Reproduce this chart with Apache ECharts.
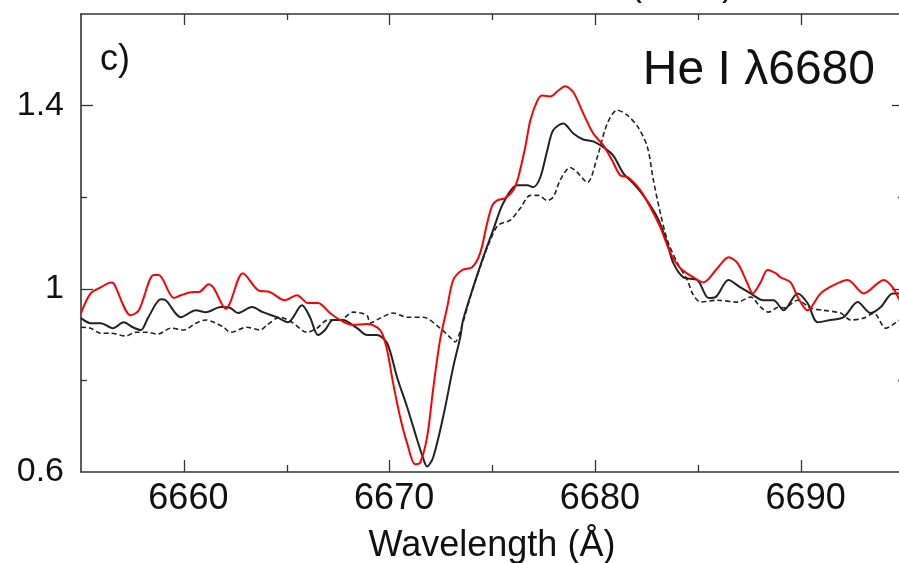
<!DOCTYPE html>
<html>
<head>
<meta charset="utf-8">
<script src="https://cdn.jsdelivr.net/npm/echarts@6/dist/echarts.min.js"></script>
<style>html,body{margin:0;padding:0;background:#fff;}#c{width:899px;height:563px;}</style>
</head>
<body>
<div id="c"></div>
<script>
// Wavelength (Å) / normalized flux pairs
const redSpec = [
 [6655.00,0.947],[6655.47,0.990],[6655.96,1.003],[6656.45,1.014],[6656.59,1.012],[6657.42,0.942],
 [6657.81,0.953],[6658.54,1.030],[6658.78,1.030],[6659.51,0.980],[6659.85,0.986],[6660.48,0.993],
 [6660.73,0.993],[6661.21,1.010],[6661.46,1.001],[6662.05,0.956],[6662.24,0.969],[6662.87,1.034],
 [6663.60,0.997],[6664.18,0.993],[6664.91,0.975],[6665.50,0.986],[6666.03,0.969],[6666.52,0.969],
 [6667.10,0.947],[6667.59,0.932],[6668.22,0.921],[6668.90,0.923],[6669.39,0.916],[6669.63,0.903],
 [6669.88,0.866],[6670.17,0.794],[6670.51,0.720],[6670.85,0.663],[6671.24,0.617],[6671.48,0.620],
 [6671.82,0.676],[6672.11,0.779],[6672.45,0.888],[6672.80,0.960],[6673.09,1.019],[6673.53,1.041],
 [6674.01,1.047],[6674.40,1.078],[6674.74,1.143],[6674.99,1.182],[6675.23,1.193],[6675.62,1.198],
 [6676.01,1.215],[6676.25,1.243],[6676.59,1.309],[6676.84,1.368],[6677.18,1.411],[6677.42,1.422],
 [6677.81,1.420],[6678.20,1.433],[6678.54,1.442],[6678.93,1.429],[6679.41,1.383],[6679.90,1.339],
 [6680.39,1.313],[6680.82,1.280],[6681.21,1.248],[6681.60,1.243],[6682.19,1.215],[6682.67,1.178],
 [6683.16,1.134],[6683.65,1.078],[6684.13,1.045],[6684.77,1.025],[6685.25,1.014],[6685.93,1.045],
 [6686.47,1.069],[6686.91,1.056],[6687.39,1.012],[6687.64,0.990],[6688.03,1.014],[6688.37,1.041],
 [6688.76,1.034],[6689.00,1.025],[6689.49,1.014],[6689.83,0.982],[6690.31,0.953],[6690.95,0.990],
 [6691.58,1.008],[6692.26,1.019],[6693.04,0.990],[6693.72,1.012],[6694.01,1.019],[6694.45,1.003],
 [6694.79,0.975],[6695.00,0.958]
];
const blackSpec = [
 [6655.00,0.936],[6655.47,0.925],[6655.96,0.925],[6656.54,0.914],[6657.08,0.927],[6657.52,0.916],
 [6657.91,0.910],[6658.25,0.936],[6658.88,0.977],[6659.12,0.975],[6659.85,0.938],[6660.58,0.953],
 [6661.07,0.949],[6661.80,0.960],[6662.26,0.958],[6662.63,0.947],[6663.31,0.960],[6663.84,0.949],
 [6664.52,0.938],[6665.06,0.927],[6665.74,0.964],[6666.13,0.938],[6666.52,0.899],[6666.86,0.910],
 [6667.25,0.932],[6667.73,0.932],[6668.42,0.914],[6668.90,0.899],[6669.39,0.899],[6669.88,0.881],
 [6670.36,0.807],[6670.85,0.742],[6671.34,0.670],[6671.58,0.637],[6671.82,0.612],[6672.11,0.631],
 [6672.60,0.720],[6673.09,0.829],[6673.43,0.894],[6673.57,0.932],[6674.06,1.003],[6674.55,1.069],
 [6675.03,1.128],[6675.52,1.187],[6676.20,1.226],[6676.69,1.226],[6676.98,1.222],[6677.32,1.243],
 [6677.66,1.302],[6677.95,1.346],[6678.44,1.361],[6678.93,1.339],[6679.41,1.326],[6679.90,1.322],
 [6680.39,1.309],[6680.87,1.291],[6681.36,1.252],[6681.85,1.230],[6682.33,1.204],[6683.01,1.156],
 [6683.50,1.099],[6683.79,1.056],[6684.28,1.025],[6684.96,1.019],[6685.50,0.980],[6685.84,0.982],
 [6686.47,1.019],[6687.05,1.003],[6687.54,0.990],[6688.17,0.975],[6688.66,0.975],[6689.15,0.953],
 [6689.83,0.990],[6690.31,0.969],[6690.80,0.927],[6691.43,0.932],[6692.07,0.938],[6692.75,0.971],
 [6693.38,0.947],[6693.87,0.960],[6694.45,0.990],[6694.79,0.990],[6695.00,0.990]
];
const dashedSpec = [
 [6655.00,0.916],[6655.47,0.914],[6655.96,0.903],[6656.45,0.903],[6657.18,0.897],[6657.66,0.905],
 [6658.25,0.905],[6658.73,0.901],[6659.37,0.914],[6660.00,0.910],[6660.58,0.925],[6661.07,0.932],
 [6661.46,0.927],[6661.94,0.916],[6662.26,0.905],[6663.06,0.916],[6663.70,0.910],[6664.04,0.921],
 [6664.67,0.938],[6665.25,0.927],[6665.98,0.905],[6666.47,0.914],[6667.00,0.932],[6667.59,0.932],
 [6668.22,0.949],[6668.90,0.942],[6669.05,0.925],[6669.54,0.936],[6670.17,0.947],[6670.85,0.938],
 [6671.63,0.938],[6672.45,0.914],[6672.94,0.894],[6673.18,0.884],[6673.48,0.914],[6673.92,0.982],
 [6674.40,1.047],[6674.89,1.106],[6675.28,1.139],[6675.86,1.150],[6676.35,1.176],[6676.84,1.204],
 [6677.22,1.204],[6677.66,1.193],[6677.95,1.200],[6678.29,1.237],[6678.78,1.265],[6679.12,1.254],
 [6679.61,1.232],[6680.09,1.287],[6680.58,1.361],[6681.07,1.390],[6681.55,1.379],[6682.09,1.352],
 [6682.53,1.309],[6682.82,1.237],[6683.16,1.165],[6683.50,1.106],[6683.99,1.056],[6684.47,1.019],
 [6684.72,0.990],[6685.11,0.971],[6685.93,0.975],[6686.91,0.971],[6687.54,0.982],[6688.03,0.960],
 [6688.42,0.949],[6688.90,0.960],[6689.15,0.958],[6689.83,0.975],[6690.46,0.958],[6691.09,0.953],
 [6691.92,0.947],[6692.41,0.932],[6693.04,0.936],[6693.53,0.947],[6694.11,0.914],[6694.79,0.932],
 [6695.00,0.936]
];
const xRange = [6655, 6695];
const yRange = [0.6, 1.6];
const xMajorTicks = [6660, 6670, 6680, 6690];
const xMinorTicks = [6665, 6675, 6685];
const yMajorTicks = [1.0, 1.4];
const yMinorTicks = [0.8, 1.2];
const yLabels = [0.6, 1.0, 1.4];

const FONT = "'Liberation Sans', Arial, Helvetica, sans-serif";
const AX = '#333';

function xAx(pos, ticks, len, labels, line) {
  return {
    type: 'value', position: pos, min: xRange[0], max: xRange[1],
    axisLine: { show: line, lineStyle: { color: AX, width: 1.6 } },
    axisTick: { show: true, inside: true, length: len, customValues: ticks, lineStyle: { color: AX, width: 1.3 } },
    axisLabel: labels ? { show: true, customValues: labels, margin: 9, padding: [0, 0, 0, 9],
      formatter: v => String(v), fontFamily: FONT, fontSize: 36, color: '#111' } : { show: false },
    splitLine: { show: false }
  };
}
function yAx(pos, ticks, len, labels, line) {
  return {
    type: 'value', position: pos, min: yRange[0], max: yRange[1],
    axisLine: { show: line, lineStyle: { color: AX, width: 1.6 } },
    axisTick: { show: true, inside: true, length: len, customValues: ticks, lineStyle: { color: AX, width: 1.3 } },
    axisLabel: labels ? { show: true, customValues: labels, margin: 17,
      formatter: v => String(v), fontFamily: FONT, fontSize: 34, color: '#111' } : { show: false },
    splitLine: { show: false }
  };
}

const chart = echarts.init(document.getElementById('c'), null, { renderer: 'canvas' });
chart.setOption({
  animation: false,
  backgroundColor: '#fff',
  grid: { left: 81, top: 14, width: 823, height: 458, containLabel: false, outerBoundsMode: 'none' },
  xAxis: [
    xAx('bottom', xMajorTicks, 12, xMajorTicks, true),
    xAx('bottom', xMinorTicks, 7, null, false),
    xAx('top', xMajorTicks, 11, null, true),
    xAx('top', xMinorTicks, 6, null, false)
  ],
  yAxis: [
    yAx('left', yMajorTicks, 12, yLabels, true),
    yAx('left', yMinorTicks, 6, null, false),
    yAx('right', yMajorTicks, 12, null, true),
    yAx('right', yMinorTicks, 6, null, false)
  ],
  series: [
    { type: 'line', data: dashedSpec, showSymbol: false, smooth: 0.3, clip: true,
      lineStyle: { color: '#222', width: 1.6, type: [5, 3] } },
    { type: 'line', data: blackSpec, showSymbol: false, smooth: 0.3, clip: true,
      lineStyle: { color: '#222', width: 2 } },
    { type: 'line', data: redSpec, showSymbol: false, smooth: 0.3, clip: true,
      lineStyle: { color: '#ff0000', width: 2 } }
  ],
  graphic: [
    { type: 'text', x: 100, y: 60, style: { text: 'c)', font: '36px ' + FONT, fill: '#111', align: 'left', verticalAlign: 'middle' } },
    { type: 'text', x: 875, y: 71, style: { text: 'He I λ6680', font: '48px ' + FONT, fill: '#111', align: 'right', verticalAlign: 'middle' } },
    { type: 'text', x: 492, y: 546, style: { text: 'Wavelength (Å)', font: '36px ' + FONT, fill: '#111', align: 'center', verticalAlign: 'middle' } },
    { type: 'text', x: 682, y: -15, style: { text: '(2009)', font: '36px ' + FONT, fill: '#111', align: 'center', verticalAlign: 'middle' } }
  ]
});
</script>
</body>
</html>
